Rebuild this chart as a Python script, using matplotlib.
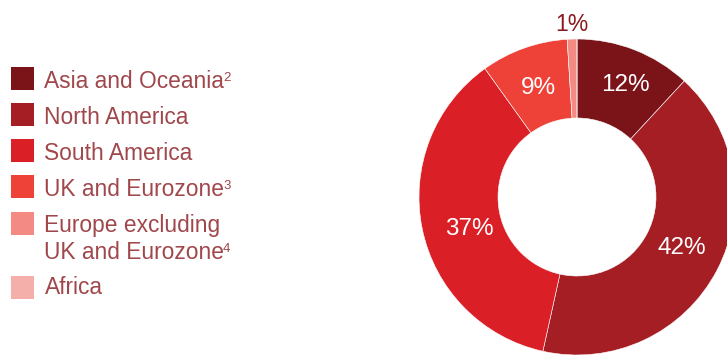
import matplotlib
matplotlib.use("Agg")
import matplotlib.pyplot as plt
from matplotlib.patches import Rectangle
import numpy as np

# ---- data ----
regions = ["Asia and Oceania", "North America", "South America",
           "UK and Eurozone", "Europe excluding\nUK and Eurozone", "Africa"]
footnotes = ["2", "", "", "3", "4", ""]
shares = [12, 42, 37, 9, 1, 0]
pct_labels = ["12%", "42%", "37%", "9%", "1%", ""]
colors = ["#7b1419", "#a51e24", "#da1f27", "#ee4238", "#f48a84", "#f5afab"]

W, H = 727, 359
FONT = "Liberation Sans"
TXT = "#a0474c"

fig = plt.figure(figsize=(W / 100, H / 100), dpi=100)

# ---- donut ----
cx, cy, R = 577, 197, 158
ax = fig.add_axes([(cx - R) / W, (H - cy - R) / H, 2 * R / W, 2 * R / H])
wedges, _ = ax.pie(shares, colors=colors, startangle=90, counterclock=False,
                   radius=1.0, wedgeprops=dict(width=0.5, edgecolor="white",
                                               linewidth=0.4))
ax.set_xlim(-1, 1)
ax.set_ylim(-1, 1)
ax.set_aspect("equal")
ax.axis("off")

# label placement tweaks (radius, angle offset in degrees)
tweaks = [(0.77, -2), (0.74, 1.5), (0.71, 5), (0.73, 0), (1.09, 0), (1.0, 0)]
for w, lab, (r, da) in zip(wedges, pct_labels, tweaks):
    if not lab:
        continue
    ang = np.deg2rad((w.theta1 + w.theta2) / 2 + da)
    outside = r > 1
    ax.text(r * np.cos(ang), r * np.sin(ang), lab, ha="center", va="center",
            fontsize=16.5 if outside else 17.5, family=FONT,
            color="#8b1a20" if outside else "white", clip_on=False)

# ---- legend (pixel coordinates) ----
lax = fig.add_axes([0, 0, 1, 1])
lax.set_xlim(0, W)
lax.set_ylim(H, 0)
lax.axis("off")

sq_centers = [78, 114, 150, 186, 223, 287]
baselines = [[88], [124], [160], [196], [232, 259], [294]]
fig.canvas.draw()
renderer = fig.canvas.get_renderer()
for name, fn, col, yc, bls in zip(regions, footnotes, colors, sq_centers, baselines):
    lax.add_patch(Rectangle((11, yc - 11.5), 23, 23, facecolor=col, edgecolor="none"))
    lines = name.split("\n")
    last = None
    for line, bl in zip(lines, bls):
        last = lax.text(44.5, bl, line, ha="left", va="baseline", fontsize=16.4,
                        family=FONT, color=TXT)
    if fn:
        bb = last.get_window_extent(renderer)
        x_end = bb.x1  # display px (dpi 100 -> same as figure px)
        lax.text(x_end - 1.5, bls[-1] - 7, fn, ha="left", va="baseline",
                 fontsize=9.5, family=FONT, color=TXT)

fig.savefig("out.png", dpi=100)
